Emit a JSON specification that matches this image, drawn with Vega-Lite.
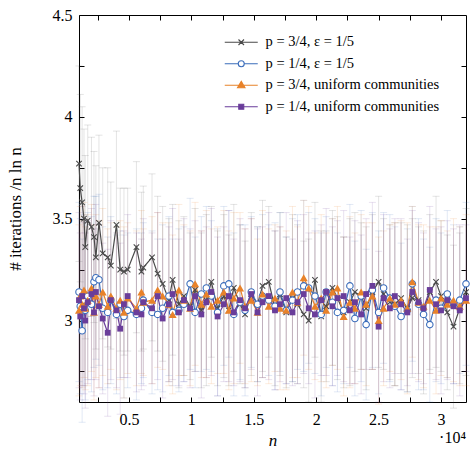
{
"$schema": "https://vega.github.io/schema/vega-lite/v6.json",
"width": 387, "height": 387,
"autosize": "none",
"padding": {"left": 79, "top": 15, "right": 4, "bottom": 50},
"background": "white",
"config": {"view": {"stroke": null}, "font": "Liberation Serif",
  "style": {"guide-label": {"font": "Liberation Serif"}, "guide-title": {"font": "Liberation Serif"}},
  "axis": {"grid": false, "domainColor": "black", "domainWidth": 1, "tickColor": "black", "tickWidth": 1, "labelColor": "black", "labelFont": "Liberation Serif", "labelFontSize": 16, "titleFont": "Liberation Serif", "titleColor": "black", "titleFontWeight": "normal", "labelFlush": false, "labelOverlap": false}},
"data": {"values": [
{"n":1000,"s":"g","y":3.77,"e":0.48},{"n":1100,"s":"g","y":3.65,"e":0.46},{"n":1250,"s":"g","y":3.58,"e":0.47},{"n":1400,"s":"g","y":3.50,"e":0.44},{"n":1500,"s":"g","y":3.36,"e":0.45},{"n":1700,"s":"g","y":3.49,"e":0.47},{"n":2000,"s":"g","y":3.46,"e":0.44},{"n":2200,"s":"g","y":3.41,"e":0.42},{"n":2350,"s":"g","y":3.31,"e":0.45},{"n":2600,"s":"g","y":3.48,"e":0.43},{"n":2900,"s":"g","y":3.33,"e":0.42},{"n":3300,"s":"g","y":3.31,"e":0.44},{"n":3550,"s":"g","y":3.27,"e":0.41},{"n":4000,"s":"g","y":3.47,"e":0.46},{"n":4300,"s":"g","y":3.25,"e":0.40},{"n":4600,"s":"g","y":3.24,"e":0.41},{"n":4900,"s":"g","y":3.25,"e":0.40},{"n":5600,"s":"g","y":3.36,"e":0.42},{"n":6000,"s":"g","y":3.24,"e":0.39},{"n":6150,"s":"g","y":3.26,"e":0.40},{"n":6850,"s":"g","y":3.31,"e":0.41},{"n":7300,"s":"g","y":3.23,"e":0.38},{"n":7700,"s":"g","y":3.18,"e":0.38},{"n":8200,"s":"g","y":3.10,"e":0.40},{"n":8500,"s":"g","y":3.20,"e":0.37},{"n":9000,"s":"g","y":3.08,"e":0.41},{"n":9400,"s":"g","y":3.12,"e":0.39},{"n":9900,"s":"g","y":3.07,"e":0.36},{"n":10300,"s":"g","y":3.15,"e":0.40},{"n":10800,"s":"g","y":3.05,"e":0.38},{"n":11200,"s":"g","y":3.10,"e":0.42},{"n":11600,"s":"g","y":3.19,"e":0.37},{"n":12100,"s":"g","y":3.06,"e":0.38},{"n":12600,"s":"g","y":3.12,"e":0.40},{"n":13000,"s":"g","y":3.05,"e":0.37},{"n":13400,"s":"g","y":3.16,"e":0.41},{"n":13900,"s":"g","y":3.08,"e":0.39},{"n":14300,"s":"g","y":3.03,"e":0.36},{"n":14800,"s":"g","y":3.13,"e":0.40},{"n":15300,"s":"g","y":3.08,"e":0.38},{"n":15700,"s":"g","y":3.17,"e":0.42},{"n":16200,"s":"g","y":3.19,"e":0.37},{"n":16700,"s":"g","y":3.06,"e":0.38},{"n":17100,"s":"g","y":3.13,"e":0.40},{"n":17600,"s":"g","y":3.04,"e":0.37},{"n":18100,"s":"g","y":3.11,"e":0.41},{"n":18500,"s":"g","y":3.08,"e":0.39},{"n":19000,"s":"g","y":3.03,"e":0.36},{"n":19400,"s":"g","y":3.00,"e":0.40},{"n":19900,"s":"g","y":3.20,"e":0.38},{"n":20400,"s":"g","y":3.02,"e":0.42},{"n":20800,"s":"g","y":3.07,"e":0.37},{"n":21300,"s":"g","y":3.16,"e":0.38},{"n":21700,"s":"g","y":3.11,"e":0.40},{"n":22200,"s":"g","y":3.04,"e":0.37},{"n":22700,"s":"g","y":3.09,"e":0.41},{"n":23100,"s":"g","y":3.14,"e":0.39},{"n":23600,"s":"g","y":3.12,"e":0.36},{"n":24000,"s":"g","y":3.06,"e":0.40},{"n":24500,"s":"g","y":3.14,"e":0.38},{"n":25000,"s":"g","y":3.19,"e":0.42},{"n":25400,"s":"g","y":3.13,"e":0.37},{"n":25900,"s":"g","y":3.09,"e":0.38},{"n":26300,"s":"g","y":3.08,"e":0.40},{"n":26800,"s":"g","y":3.11,"e":0.37},{"n":27300,"s":"g","y":3.06,"e":0.41},{"n":27700,"s":"g","y":3.11,"e":0.39},{"n":28200,"s":"g","y":3.10,"e":0.36},{"n":28600,"s":"g","y":3.04,"e":0.40},{"n":29100,"s":"g","y":3.14,"e":0.38},{"n":29600,"s":"g","y":3.19,"e":0.42},{"n":30000,"s":"g","y":3.12,"e":0.37},{"n":30500,"s":"g","y":3.04,"e":0.38},{"n":31000,"s":"g","y":2.97,"e":0.40},{"n":31500,"s":"g","y":3.06,"e":0.37},{"n":32000,"s":"g","y":3.14,"e":0.41},
{"n":1000,"s":"b","y":3.14,"e":0.44},{"n":1100,"s":"b","y":3.07,"e":0.43},{"n":1250,"s":"b","y":2.95,"e":0.45},{"n":1400,"s":"b","y":3.10,"e":0.42},{"n":1500,"s":"b","y":3.05,"e":0.44},{"n":1700,"s":"b","y":3.12,"e":0.41},{"n":2000,"s":"b","y":3.08,"e":0.43},{"n":2200,"s":"b","y":3.19,"e":0.42},{"n":2350,"s":"b","y":3.21,"e":0.40},{"n":2600,"s":"b","y":3.20,"e":0.42},{"n":2900,"s":"b","y":3.06,"e":0.40},{"n":3300,"s":"b","y":3.04,"e":0.37},{"n":3550,"s":"b","y":3.10,"e":0.41},{"n":4000,"s":"b","y":3.03,"e":0.39},{"n":4300,"s":"b","y":3.08,"e":0.36},{"n":4600,"s":"b","y":3.02,"e":0.40},{"n":4900,"s":"b","y":3.05,"e":0.38},{"n":5600,"s":"b","y":3.03,"e":0.42},{"n":6000,"s":"b","y":3.06,"e":0.37},{"n":6150,"s":"b","y":3.10,"e":0.38},{"n":6850,"s":"b","y":3.04,"e":0.40},{"n":7300,"s":"b","y":3.03,"e":0.37},{"n":7700,"s":"b","y":3.06,"e":0.41},{"n":8200,"s":"b","y":3.12,"e":0.39},{"n":8500,"s":"b","y":3.04,"e":0.36},{"n":9000,"s":"b","y":3.05,"e":0.40},{"n":9400,"s":"b","y":3.08,"e":0.38},{"n":9900,"s":"b","y":3.18,"e":0.42},{"n":10300,"s":"b","y":3.04,"e":0.37},{"n":10800,"s":"b","y":3.13,"e":0.38},{"n":11200,"s":"b","y":3.16,"e":0.40},{"n":11600,"s":"b","y":3.12,"e":0.37},{"n":12100,"s":"b","y":3.04,"e":0.41},{"n":12600,"s":"b","y":3.17,"e":0.39},{"n":13000,"s":"b","y":3.18,"e":0.36},{"n":13400,"s":"b","y":3.03,"e":0.40},{"n":13900,"s":"b","y":3.09,"e":0.38},{"n":14300,"s":"b","y":3.05,"e":0.42},{"n":14800,"s":"b","y":3.14,"e":0.37},{"n":15300,"s":"b","y":3.08,"e":0.38},{"n":15700,"s":"b","y":3.12,"e":0.40},{"n":16200,"s":"b","y":3.10,"e":0.37},{"n":16700,"s":"b","y":3.07,"e":0.41},{"n":17100,"s":"b","y":3.14,"e":0.39},{"n":17600,"s":"b","y":3.05,"e":0.36},{"n":18100,"s":"b","y":3.10,"e":0.40},{"n":18500,"s":"b","y":3.14,"e":0.38},{"n":19000,"s":"b","y":3.17,"e":0.42},{"n":19400,"s":"b","y":3.16,"e":0.37},{"n":19900,"s":"b","y":3.12,"e":0.38},{"n":20400,"s":"b","y":3.03,"e":0.40},{"n":20800,"s":"b","y":3.14,"e":0.37},{"n":21300,"s":"b","y":3.09,"e":0.41},{"n":21700,"s":"b","y":3.04,"e":0.39},{"n":22200,"s":"b","y":3.05,"e":0.36},{"n":22700,"s":"b","y":3.17,"e":0.40},{"n":23100,"s":"b","y":3.01,"e":0.38},{"n":23600,"s":"b","y":3.12,"e":0.42},{"n":24000,"s":"b","y":2.98,"e":0.37},{"n":24500,"s":"b","y":3.15,"e":0.38},{"n":25000,"s":"b","y":3.04,"e":0.40},{"n":25400,"s":"b","y":3.16,"e":0.37},{"n":25900,"s":"b","y":3.11,"e":0.41},{"n":26300,"s":"b","y":3.07,"e":0.39},{"n":26800,"s":"b","y":3.02,"e":0.36},{"n":27300,"s":"b","y":3.05,"e":0.40},{"n":27700,"s":"b","y":3.18,"e":0.38},{"n":28200,"s":"b","y":3.08,"e":0.42},{"n":28600,"s":"b","y":3.03,"e":0.37},{"n":29100,"s":"b","y":2.98,"e":0.38},{"n":29600,"s":"b","y":3.10,"e":0.40},{"n":30000,"s":"b","y":3.06,"e":0.37},{"n":30500,"s":"b","y":3.13,"e":0.41},{"n":31000,"s":"b","y":3.08,"e":0.39},{"n":31500,"s":"b","y":3.10,"e":0.36},{"n":32000,"s":"b","y":3.18,"e":0.40},
{"n":1000,"s":"o","y":3.05,"e":0.42},{"n":1100,"s":"o","y":3.12,"e":0.44},{"n":1250,"s":"o","y":3.08,"e":0.41},{"n":1400,"s":"o","y":3.15,"e":0.43},{"n":1500,"s":"o","y":3.06,"e":0.40},{"n":1700,"s":"o","y":3.10,"e":0.42},{"n":2000,"s":"o","y":3.16,"e":0.41},{"n":2200,"s":"o","y":3.04,"e":0.43},{"n":2350,"s":"o","y":3.12,"e":0.40},{"n":2600,"s":"o","y":3.08,"e":0.41},{"n":2900,"s":"o","y":3.14,"e":0.41},{"n":3300,"s":"o","y":3.07,"e":0.38},{"n":3550,"s":"o","y":3.12,"e":0.36},{"n":4000,"s":"o","y":3.06,"e":0.40},{"n":4300,"s":"o","y":3.10,"e":0.39},{"n":4600,"s":"o","y":3.04,"e":0.42},{"n":4900,"s":"o","y":3.11,"e":0.37},{"n":5600,"s":"o","y":3.06,"e":0.38},{"n":6000,"s":"o","y":3.14,"e":0.40},{"n":6150,"s":"o","y":3.09,"e":0.36},{"n":6850,"s":"o","y":3.10,"e":0.41},{"n":7300,"s":"o","y":3.15,"e":0.38},{"n":7700,"s":"o","y":3.12,"e":0.36},{"n":8200,"s":"o","y":3.08,"e":0.40},{"n":8500,"s":"o","y":3.03,"e":0.39},{"n":9000,"s":"o","y":3.15,"e":0.42},{"n":9400,"s":"o","y":3.10,"e":0.37},{"n":9900,"s":"o","y":3.06,"e":0.38},{"n":10300,"s":"o","y":3.18,"e":0.40},{"n":10800,"s":"o","y":3.08,"e":0.36},{"n":11200,"s":"o","y":3.13,"e":0.41},{"n":11600,"s":"o","y":3.07,"e":0.38},{"n":12100,"s":"o","y":3.10,"e":0.36},{"n":12600,"s":"o","y":3.14,"e":0.40},{"n":13000,"s":"o","y":3.05,"e":0.39},{"n":13400,"s":"o","y":3.11,"e":0.42},{"n":13900,"s":"o","y":3.16,"e":0.37},{"n":14300,"s":"o","y":3.07,"e":0.38},{"n":14800,"s":"o","y":3.10,"e":0.40},{"n":15300,"s":"o","y":3.04,"e":0.36},{"n":15700,"s":"o","y":3.13,"e":0.41},{"n":16200,"s":"o","y":3.07,"e":0.38},{"n":16700,"s":"o","y":3.11,"e":0.36},{"n":17100,"s":"o","y":3.06,"e":0.40},{"n":17600,"s":"o","y":3.05,"e":0.39},{"n":18100,"s":"o","y":3.14,"e":0.42},{"n":18500,"s":"o","y":3.09,"e":0.37},{"n":19000,"s":"o","y":3.21,"e":0.38},{"n":19400,"s":"o","y":3.16,"e":0.40},{"n":19900,"s":"o","y":3.07,"e":0.36},{"n":20400,"s":"o","y":3.11,"e":0.41},{"n":20800,"s":"o","y":3.05,"e":0.38},{"n":21300,"s":"o","y":3.14,"e":0.36},{"n":21700,"s":"o","y":3.16,"e":0.40},{"n":22200,"s":"o","y":3.02,"e":0.39},{"n":22700,"s":"o","y":3.09,"e":0.42},{"n":23100,"s":"o","y":3.06,"e":0.37},{"n":23600,"s":"o","y":3.14,"e":0.38},{"n":24000,"s":"o","y":3.08,"e":0.40},{"n":24500,"s":"o","y":3.12,"e":0.36},{"n":25000,"s":"o","y":3.00,"e":0.41},{"n":25400,"s":"o","y":3.06,"e":0.38},{"n":25900,"s":"o","y":3.11,"e":0.36},{"n":26300,"s":"o","y":3.08,"e":0.40},{"n":26800,"s":"o","y":3.10,"e":0.39},{"n":27300,"s":"o","y":3.06,"e":0.42},{"n":27700,"s":"o","y":3.19,"e":0.37},{"n":28200,"s":"o","y":3.09,"e":0.38},{"n":28600,"s":"o","y":3.07,"e":0.40},{"n":29100,"s":"o","y":3.10,"e":0.36},{"n":29600,"s":"o","y":3.05,"e":0.41},{"n":30000,"s":"o","y":3.11,"e":0.38},{"n":30500,"s":"o","y":3.08,"e":0.36},{"n":31000,"s":"o","y":3.10,"e":0.40},{"n":31500,"s":"o","y":3.07,"e":0.39},{"n":32000,"s":"o","y":3.10,"e":0.42},
{"n":1000,"s":"p","y":3.10,"e":0.43},{"n":1100,"s":"p","y":3.02,"e":0.41},{"n":1250,"s":"p","y":3.12,"e":0.44},{"n":1400,"s":"p","y":3.06,"e":0.42},{"n":1500,"s":"p","y":3.00,"e":0.43},{"n":1700,"s":"p","y":3.09,"e":0.40},{"n":2000,"s":"p","y":3.13,"e":0.42},{"n":2200,"s":"p","y":3.04,"e":0.41},{"n":2350,"s":"p","y":3.14,"e":0.43},{"n":2600,"s":"p","y":3.07,"e":0.40},{"n":2900,"s":"p","y":3.01,"e":0.37},{"n":3300,"s":"p","y":2.94,"e":0.41},{"n":3550,"s":"p","y":3.10,"e":0.39},{"n":4000,"s":"p","y":3.05,"e":0.38},{"n":4300,"s":"p","y":2.96,"e":0.42},{"n":4600,"s":"p","y":3.08,"e":0.36},{"n":4900,"s":"p","y":3.12,"e":0.40},{"n":5600,"s":"p","y":3.04,"e":0.39},{"n":6000,"s":"p","y":3.03,"e":0.37},{"n":6150,"s":"p","y":3.09,"e":0.41},{"n":6850,"s":"p","y":3.06,"e":0.37},{"n":7300,"s":"p","y":3.12,"e":0.41},{"n":7700,"s":"p","y":3.01,"e":0.39},{"n":8200,"s":"p","y":3.08,"e":0.38},{"n":8500,"s":"p","y":3.13,"e":0.42},{"n":9000,"s":"p","y":3.04,"e":0.36},{"n":9400,"s":"p","y":3.10,"e":0.40},{"n":9900,"s":"p","y":3.06,"e":0.39},{"n":10300,"s":"p","y":3.12,"e":0.37},{"n":10800,"s":"p","y":3.03,"e":0.41},{"n":11200,"s":"p","y":3.09,"e":0.37},{"n":11600,"s":"p","y":3.14,"e":0.41},{"n":12100,"s":"p","y":3.02,"e":0.39},{"n":12600,"s":"p","y":3.08,"e":0.38},{"n":13000,"s":"p","y":3.12,"e":0.42},{"n":13400,"s":"p","y":3.04,"e":0.36},{"n":13900,"s":"p","y":3.10,"e":0.40},{"n":14300,"s":"p","y":3.06,"e":0.39},{"n":14800,"s":"p","y":3.13,"e":0.37},{"n":15300,"s":"p","y":3.04,"e":0.41},{"n":15700,"s":"p","y":3.09,"e":0.37},{"n":16200,"s":"p","y":3.12,"e":0.41},{"n":16700,"s":"p","y":3.05,"e":0.39},{"n":17100,"s":"p","y":3.08,"e":0.38},{"n":17600,"s":"p","y":3.11,"e":0.42},{"n":18100,"s":"p","y":3.04,"e":0.36},{"n":18500,"s":"p","y":3.09,"e":0.40},{"n":19000,"s":"p","y":3.13,"e":0.39},{"n":19400,"s":"p","y":3.06,"e":0.37},{"n":19900,"s":"p","y":3.03,"e":0.41},{"n":20400,"s":"p","y":3.10,"e":0.37},{"n":20800,"s":"p","y":3.14,"e":0.41},{"n":21300,"s":"p","y":3.07,"e":0.39},{"n":21700,"s":"p","y":3.11,"e":0.38},{"n":22200,"s":"p","y":3.12,"e":0.42},{"n":22700,"s":"p","y":3.05,"e":0.36},{"n":23100,"s":"p","y":3.09,"e":0.40},{"n":23600,"s":"p","y":3.03,"e":0.39},{"n":24000,"s":"p","y":3.13,"e":0.37},{"n":24500,"s":"p","y":3.17,"e":0.41},{"n":25000,"s":"p","y":2.97,"e":0.37},{"n":25400,"s":"p","y":3.11,"e":0.41},{"n":25900,"s":"p","y":3.06,"e":0.39},{"n":26300,"s":"p","y":3.12,"e":0.38},{"n":26800,"s":"p","y":3.08,"e":0.42},{"n":27300,"s":"p","y":3.04,"e":0.36},{"n":27700,"s":"p","y":3.14,"e":0.40},{"n":28200,"s":"p","y":3.09,"e":0.39},{"n":28600,"s":"p","y":3.06,"e":0.37},{"n":29100,"s":"p","y":3.15,"e":0.41},{"n":29600,"s":"p","y":3.08,"e":0.37},{"n":30000,"s":"p","y":3.05,"e":0.41},{"n":30500,"s":"p","y":3.10,"e":0.39},{"n":31000,"s":"p","y":3.07,"e":0.38},{"n":31500,"s":"p","y":3.05,"e":0.42},{"n":32000,"s":"p","y":3.11,"e":0.36}
]},
"layer": [
 {"mark": {"type": "point", "filled": false, "opacity": 0},
  "encoding": {
   "x": {"field": "n", "type": "quantitative", "scale": {"domain": [1000, 32000], "nice": false, "zero": false}, "axis": null},
   "y": {"field": "y", "type": "quantitative", "scale": {"domain": [2.6, 4.5], "nice": false, "zero": false}, "axis": null},
   "stroke": {"field": "s", "type": "nominal", "scale": {"domain": ["g", "b", "o", "p"], "range": ["#4a4a4a", "#3b6dbb", "#e8822a", "#6a3d9a"]}, "legend": {"orient": "none", "legendX": 155, "legendY": 20, "title": null, "padding": 0, "labelFont": "Liberation Serif", "labelFontSize": 14.5, "labelColor": "black", "labelLimit": 400, "symbolSize": 100, "symbolStrokeWidth": 1.1, "symbolOpacity": 1, "labelOffset": 17, "rowPadding": 6.5, "labelExpr": "datum.label == 'g' ? 'p = 3/4, ε = 1/5' : datum.label == 'b' ? 'p = 1/4, ε = 1/5' : datum.label == 'o' ? 'p = 3/4, uniform communities' : 'p = 1/4, uniform communities'"}},
   "shape": {"field": "s", "type": "nominal", "scale": {"domain": ["g", "b", "o", "p"], "range": ["M-3.3,0H3.3M-0.55,-0.55L0.55,0.55M-0.55,0.55L0.55,-0.55", "M-3.3,0H-0.6M0.6,0H3.3M0.6,0A0.6,0.6 0 1,1 -0.6,0A0.6,0.6 0 1,1 0.6,0", "M-3.3,0H3.3M0,-0.8L0.75,0.5L-0.75,0.5Z", "M-3.3,0H3.3M-0.5,-0.5H0.5V0.5H-0.5Z"]}, "legend": {"orient": "none", "legendX": 155, "legendY": 20, "title": null, "padding": 0, "labelFont": "Liberation Serif", "labelFontSize": 14.5, "labelColor": "black", "labelLimit": 400, "symbolSize": 100, "symbolStrokeWidth": 1.1, "symbolOpacity": 1, "labelOffset": 17, "rowPadding": 6.5, "labelExpr": "datum.label == 'g' ? 'p = 3/4, ε = 1/5' : datum.label == 'b' ? 'p = 1/4, ε = 1/5' : datum.label == 'o' ? 'p = 3/4, uniform communities' : 'p = 1/4, uniform communities'"}},
   "fill": {"field": "s", "type": "nominal", "scale": {"domain": ["g", "b", "o", "p"], "range": ["transparent", "white", "#e8822a", "#6a3d9a"]}, "legend": {"orient": "none", "legendX": 155, "legendY": 20, "title": null, "padding": 0, "labelFont": "Liberation Serif", "labelFontSize": 14.5, "labelColor": "black", "labelLimit": 400, "symbolSize": 100, "symbolStrokeWidth": 1.1, "symbolOpacity": 1, "labelOffset": 17, "rowPadding": 6.5, "labelExpr": "datum.label == 'g' ? 'p = 3/4, ε = 1/5' : datum.label == 'b' ? 'p = 1/4, ε = 1/5' : datum.label == 'o' ? 'p = 3/4, uniform communities' : 'p = 1/4, uniform communities'"}}
  }},
 {"mark": {"type": "errorbar", "ticks": {"size": 7, "opacity": 0.15, "strokeWidth": 1}, "rule": {"opacity": 0.15, "strokeWidth": 1}},
  "encoding": {
   "x": {"field": "n", "type": "quantitative", "axis": null},
   "y": {"field": "y", "type": "quantitative", "axis": null},
   "yError": {"field": "e"},
   "color": {"field": "s", "type": "nominal", "scale": {"domain": ["g", "b", "o", "p"], "range": ["#4a4a4a", "#3b6dbb", "#e8822a", "#6a3d9a"]}, "legend": null}
  }},
 {"mark": {"type": "line", "strokeWidth": 1.2},
  "encoding": {
   "x": {"field": "n", "type": "quantitative", "axis": {"orient": "bottom", "values": [2500, 5000, 7500, 10000, 12500, 15000, 17500, 20000, 22500, 25000, 27500, 30000], "labelExpr": "datum.value % 5000 == 0 ? (datum.value / 10000) + '' : ''", "tickSize": -5, "labelPadding": 14, "labelFont": "Liberation Serif", "labelFontSize": 16, "title": "n", "titleFont": "Liberation Serif", "titleFontStyle": "italic", "titleFontSize": 17, "titlePadding": 5}},
   "y": {"field": "y", "type": "quantitative", "axis": {"orient": "left", "values": [2.75, 3, 3.25, 3.5, 3.75, 4, 4.25, 4.5], "labelExpr": "(datum.value * 2) % 1 == 0 ? format(datum.value, '.1~f') : ''", "tickSize": -5, "labelPadding": 12, "labelFont": "Liberation Serif", "labelFontSize": 16, "title": "# iterations /n ln n", "titleFont": "Liberation Serif", "titleFontSize": 17, "titlePadding": 28}},
   "color": {"field": "s", "type": "nominal", "legend": null}
  }},
 {"transform": [{"filter": "datum.s == 'g'"}],
  "mark": {"type": "point", "filled": false, "strokeWidth": 1.1, "opacity": 1, "shape": "M-1,-1L1,1M-1,1L1,-1", "size": 30, "color": "#4a4a4a"},
  "encoding": {
   "x": {"field": "n", "type": "quantitative", "axis": {"orient": "top", "values": [2500, 5000, 7500, 10000, 12500, 15000, 17500, 20000, 22500, 25000, 27500, 30000], "labels": false, "tickSize": -5, "title": null}},
   "y": {"field": "y", "type": "quantitative", "axis": {"orient": "right", "values": [2.75, 3, 3.25, 3.5, 3.75, 4, 4.25], "labels": false, "tickSize": -5, "title": null}}
  }},
 {"transform": [{"filter": "datum.s == 'b'"}],
  "mark": {"type": "point", "filled": false, "fill": "white", "stroke": "#3b6dbb", "strokeWidth": 1.1, "opacity": 1, "shape": "circle", "size": 42},
  "encoding": {
   "x": {"field": "n", "type": "quantitative", "axis": null},
   "y": {"field": "y", "type": "quantitative", "axis": null}
  }},
 {"transform": [{"filter": "datum.s == 'o'"}],
  "mark": {"type": "point", "filled": true, "color": "#e8822a", "opacity": 1, "shape": "triangle-up", "size": 65},
  "encoding": {
   "x": {"field": "n", "type": "quantitative", "axis": null},
   "y": {"field": "y", "type": "quantitative", "axis": null}
  }},
 {"transform": [{"filter": "datum.s == 'p'"}],
  "mark": {"type": "point", "filled": true, "color": "#6a3d9a", "opacity": 1, "shape": "square", "size": 34},
  "encoding": {
   "x": {"field": "n", "type": "quantitative", "axis": null},
   "y": {"field": "y", "type": "quantitative", "axis": null}
  }},
 {"data": {"values": [{"t": "·10⁴"}]},
  "mark": {"type": "text", "align": "right", "baseline": "middle", "dy": 36, "fontSize": 16, "font": "Liberation Serif", "color": "black"},
  "encoding": {
   "x": {"datum": 32000, "type": "quantitative", "axis": null},
   "y": {"datum": 2.6, "type": "quantitative", "axis": null},
   "text": {"field": "t"}
  }}
],
"resolve": {"axis": {"x": "independent", "y": "independent"}}
}
